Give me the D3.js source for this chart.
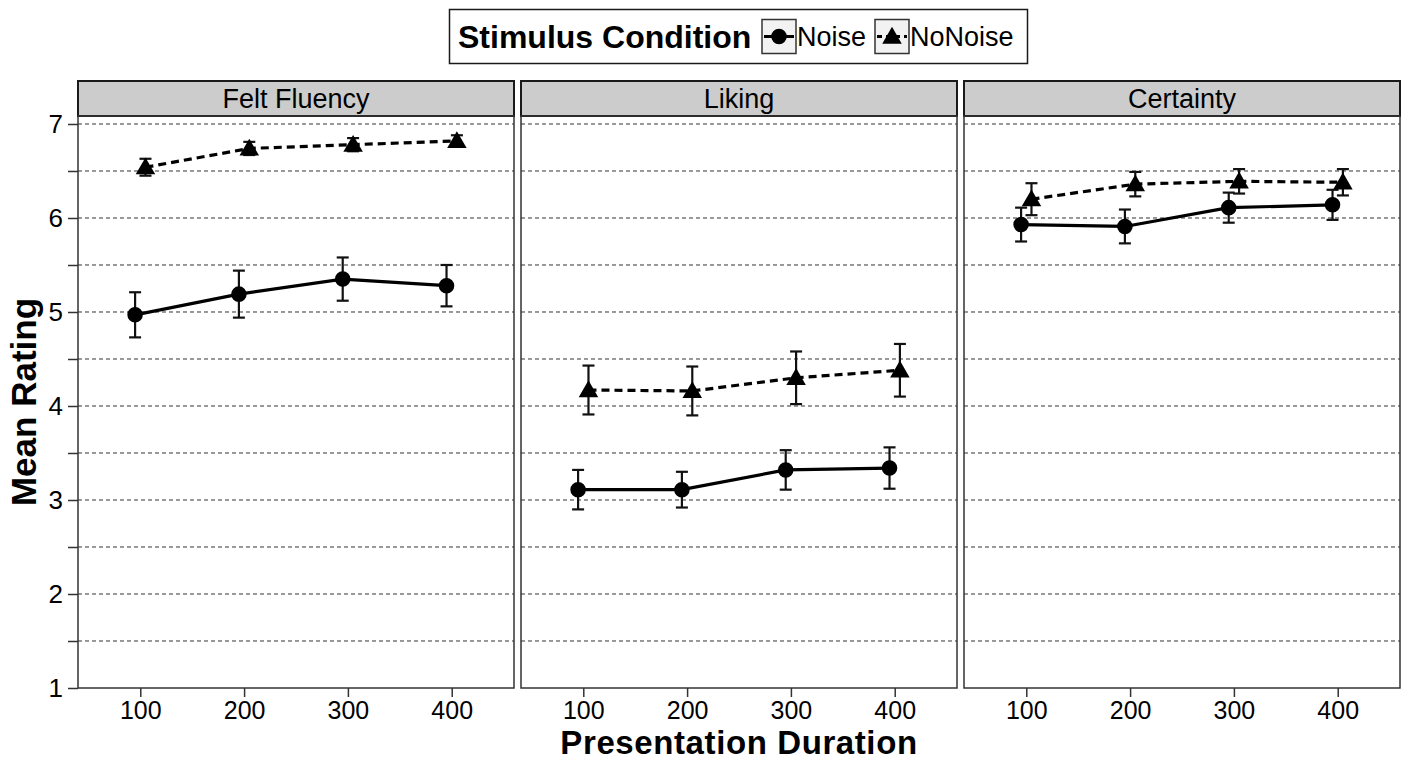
<!DOCTYPE html>
<html>

<head>
  <meta charset='utf-8'>
  <script src='https://cdn.jsdelivr.net/npm/d3@7/dist/d3.min.js'></script>
  <title></title>
  <style>
    body {
      margin: 0;
      background: #fff;
    }

    svg text {
      font-family: 'Liberation Sans', Arial, sans-serif;
      fill: #000;
    }
  </style>
</head>

<body>
  <div id='chart'></div>
  <script>
    var panels = ['Felt Fluency', 'Liking', 'Certainty'];
    var durations = [100, 200, 300, 400];
    var conditions = ['Noise', 'NoNoise'];
    var yGrid = [1, 1.5, 2, 2.5, 3, 3.5, 4, 4.5, 5, 5.5, 6, 6.5, 7];

    // means and error half-widths
    var fluencyNoise = [4.97, 5.19, 5.35, 5.28];
    var fluencyNoiseErr = [0.24, 0.25, 0.23, 0.22];
    var fluencyNoNoise = [6.54, 6.74, 6.78, 6.82];
    var fluencyNoNoiseErr = [0.09, 0.07, 0.07, 0.06];

    var likingNoise = [3.11, 3.11, 3.32, 3.34];
    var likingNoiseErr = [0.21, 0.19, 0.21, 0.22];
    var likingNoNoise = [4.17, 4.16, 4.30, 4.38];
    var likingNoNoiseErr = [0.26, 0.26, 0.28, 0.28];

    var certaintyNoise = [5.93, 5.91, 6.11, 6.14];
    var certaintyNoiseErr = [0.18, 0.18, 0.16, 0.16];
    var certaintyNoNoise = [6.20, 6.36, 6.39, 6.38];
    var certaintyNoNoiseErr = [0.17, 0.13, 0.13, 0.14];

    var series = [
      { panel: 'Felt Fluency', cond: 'Noise', mean: fluencyNoise, err: fluencyNoiseErr },
      { panel: 'Felt Fluency', cond: 'NoNoise', mean: fluencyNoNoise, err: fluencyNoNoiseErr },
      { panel: 'Liking', cond: 'Noise', mean: likingNoise, err: likingNoiseErr },
      { panel: 'Liking', cond: 'NoNoise', mean: likingNoNoise, err: likingNoNoiseErr },
      { panel: 'Certainty', cond: 'Noise', mean: certaintyNoise, err: certaintyNoiseErr },
      { panel: 'Certainty', cond: 'NoNoise', mean: certaintyNoNoise, err: certaintyNoNoiseErr }
    ];

    var width = 1401,
      height = 761;

    var margin = { top: 116, left: 78 };
    var panelW = 436,
      gap = 7,
      stripH = 35,
      plotH = 572;

    var svg = d3.select('#chart')
      .append('svg')
      .attr('width', width)
      .attr('height', height);

    var x = d3.scalePoint()
      .domain(durations)
      .range([0, panelW])
      .padding(0.6);

    var y = d3.scaleLinear()
      .domain([1, 7.085])
      .range([plotH, 0]);

    var dodge = { Noise: -0.05 * x.step(), NoNoise: 0.05 * x.step() };
    var dash = { Noise: null, NoNoise: '8,5' };
    var symbol = {
      Noise: d3.symbol().type(d3.symbolCircle).size(190),
      NoNoise: d3.symbol().type(d3.symbolTriangle).size(165)
    };

    panels.forEach(function(p, i) {
      var g = svg.append('g')
        .attr('transform', 'translate(' + (margin.left + i * (panelW + gap)) + ',' + margin.top + ')');

      g.append('rect')
        .attr('width', panelW)
        .attr('height', plotH)
        .attr('fill', '#fff');

      g.selectAll('.grid')
        .data(yGrid.slice(1))
        .enter()
        .append('line')
        .attr('x1', 0)
        .attr('x2', panelW)
        .attr('y1', function(d) { return y(d); })
        .attr('y2', function(d) { return y(d); })
        .attr('stroke', '#333')
        .attr('stroke-width', 1)
        .attr('stroke-dasharray', '4,3');

      // strip
      g.append('rect')
        .attr('x', 0)
        .attr('y', -stripH)
        .attr('width', panelW)
        .attr('height', stripH)
        .attr('fill', '#cccccc')
        .attr('stroke', '#1a1a1a')
        .attr('stroke-width', 2);

      g.append('text')
        .attr('x', panelW / 2)
        .attr('y', -stripH / 2)
        .attr('dy', '0.36em')
        .attr('text-anchor', 'middle')
        .style('font-size', '27px')
        .text(p);

      var xAxis = g.append('g')
        .attr('transform', 'translate(0,' + plotH + ')')
        .call(d3.axisBottom(x).tickSize(9).tickSizeOuter(0).tickPadding(4));
      xAxis.select('.domain').remove();
      xAxis.selectAll('line').attr('stroke', '#333').attr('stroke-width', 1.5);
      xAxis.selectAll('text').style('font-size', '25px').attr('font-family', null);

      if (i === 0) {
        var yAxis = g.append('g')
          .call(d3.axisLeft(y)
            .tickValues(yGrid)
            .tickFormat(function(d) { return Number.isInteger(d) ? d : ''; })
            .tickSize(10)
            .tickSizeOuter(0)
            .tickPadding(5));
        yAxis.select('.domain').remove();
        yAxis.selectAll('line').attr('stroke', '#333').attr('stroke-width', 1.5);
        yAxis.selectAll('text').style('font-size', '26px').attr('font-family', null);
      }

      var line = d3.line()
        .x(function(d) { return x(d.dur) + dodge[d.cond]; })
        .y(function(d) { return y(d.mean); });

      series.filter(function(s) { return s.panel === p; }).forEach(function(s) {
        var pts = durations.map(function(dur, k) {
          return { dur: dur, cond: s.cond, mean: s.mean[k], err: s.err[k] };
        });

        g.append('path')
          .datum(pts)
          .attr('d', line)
          .attr('fill', 'none')
          .attr('stroke', '#000')
          .attr('stroke-width', 3.2)
          .attr('stroke-dasharray', dash[s.cond]);

        var eb = g.selectAll('.eb-' + s.cond)
          .data(pts)
          .enter()
          .append('g')
          .attr('transform', function(d) { return 'translate(' + (x(d.dur) + dodge[d.cond]) + ',0)'; });

        eb.append('line')
          .attr('y1', function(d) { return y(d.mean - d.err); })
          .attr('y2', function(d) { return y(d.mean + d.err); })
          .attr('stroke', '#111')
          .attr('stroke-width', 2.2);
        eb.append('line')
          .attr('x1', -6).attr('x2', 6)
          .attr('y1', function(d) { return y(d.mean + d.err); })
          .attr('y2', function(d) { return y(d.mean + d.err); })
          .attr('stroke', '#111')
          .attr('stroke-width', 2.2);
        eb.append('line')
          .attr('x1', -6).attr('x2', 6)
          .attr('y1', function(d) { return y(d.mean - d.err); })
          .attr('y2', function(d) { return y(d.mean - d.err); })
          .attr('stroke', '#111')
          .attr('stroke-width', 2.2);

        g.selectAll('.pt-' + s.cond)
          .data(pts)
          .enter()
          .append('path')
          .attr('d', symbol[s.cond])
          .attr('transform', function(d) {
            var off = d.cond === 'NoNoise' ? 1.5 : 0;
            return 'translate(' + (x(d.dur) + dodge[d.cond]) + ',' + (y(d.mean) + off) + ')';
          })
          .attr('fill', '#000');
      });

      g.append('rect')
        .attr('width', panelW)
        .attr('height', plotH)
        .attr('fill', 'none')
        .attr('stroke', '#333')
        .attr('stroke-width', 1.5);
    });

    // axis titles
    svg.append('text')
      .attr('x', margin.left + (3 * panelW + 2 * gap) / 2)
      .attr('y', 754)
      .attr('text-anchor', 'middle')
      .style('font-size', '33px')
      .style('font-weight', 'bold')
      .style('letter-spacing', '0.6px')
      .text('Presentation Duration');

    svg.append('text')
      .attr('transform', 'translate(36,' + (margin.top + plotH / 2) + ') rotate(-90)')
      .attr('text-anchor', 'middle')
      .style('font-size', '35px')
      .style('font-weight', 'bold')
      .text('Mean Rating');

    // legend
    var legend = svg.append('g');
    legend.append('rect')
      .attr('x', 449.5)
      .attr('y', 9.5)
      .attr('width', 578)
      .attr('height', 54)
      .attr('fill', '#fff')
      .attr('stroke', '#1a1a1a')
      .attr('stroke-width', 1.5);

    legend.append('text')
      .attr('x', 458)
      .attr('y', 48)
      .style('font-size', '32px')
      .style('font-weight', 'bold')
      .text('Stimulus Condition');

    var keyX = { Noise: 762, NoNoise: 875 };
    var keySize = 34;
    conditions.forEach(function(c) {
      var k = legend.append('g').attr('transform', 'translate(' + keyX[c] + ',19.5)');
      k.append('rect')
        .attr('width', keySize)
        .attr('height', keySize)
        .attr('fill', '#f2f2f2')
        .attr('stroke', '#333')
        .attr('stroke-width', 1.5);
      k.append('line')
        .attr('x1', 2).attr('x2', keySize - 2)
        .attr('y1', keySize / 2).attr('y2', keySize / 2)
        .attr('stroke', '#000')
        .attr('stroke-width', 3)
        .attr('stroke-dasharray', c === 'NoNoise' ? '5,4' : null);
      k.append('path')
        .attr('d', symbol[c])
        .attr('transform', 'translate(' + keySize / 2 + ',' + (keySize / 2 + (c === 'NoNoise' ? 1.5 : 0)) + ')')
        .attr('fill', '#000');
      legend.append('text')
        .attr('x', keyX[c] + keySize + 1)
        .attr('y', 46)
        .style('font-size', '27px')
        .text(c);
    });
  </script>
</body>

</html>
